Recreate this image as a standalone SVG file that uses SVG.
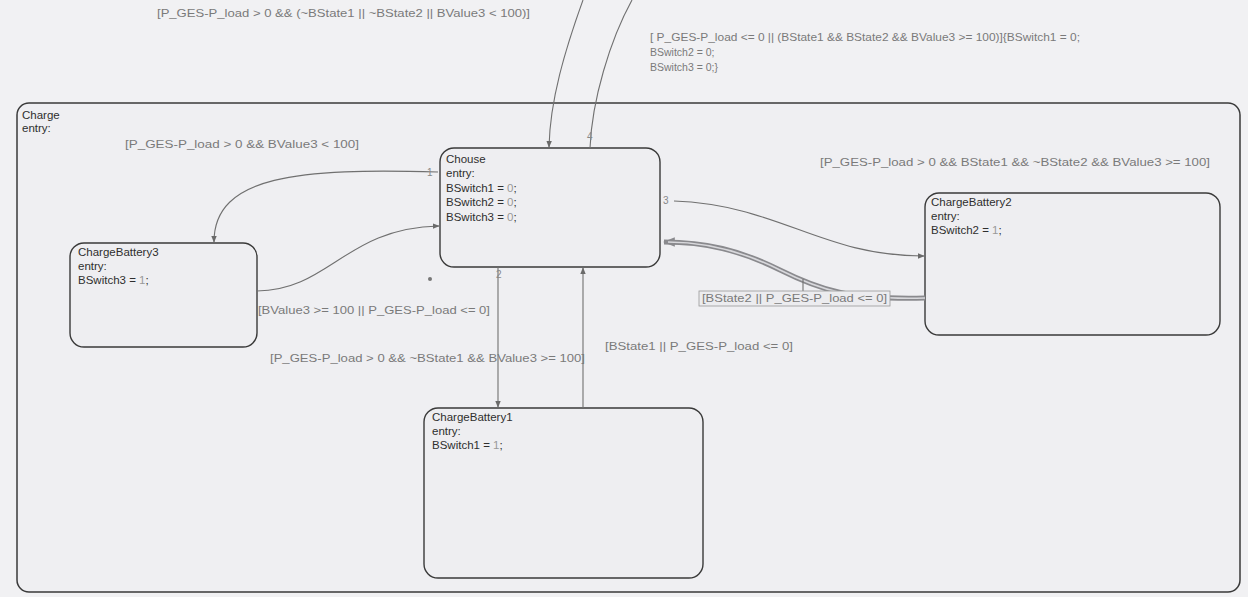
<svg xmlns="http://www.w3.org/2000/svg" width="1248" height="597" viewBox="0 0 1248 597">
<defs>
<style>
.bg{fill:#f1f1f3}
.state{fill:#eeeef1;stroke:#3a3a3a;stroke-width:1.4}
.outer{fill:#efeff2;stroke:#3a3a3a;stroke-width:1.5}
.nt{font-family:"Liberation Sans",Arial,sans-serif;font-size:11.5px;fill:#2e2e2e}
.lbl{font-family:"Liberation Sans",Arial,sans-serif;font-size:10.5px;fill:#7a7a7a}
.num{font-family:"Liberation Sans",Arial,sans-serif;font-size:10px;fill:#888}
.tr{fill:none;stroke:#707070;stroke-width:1.1}
.thick{fill:none;stroke:#8a8a8e;stroke-width:5}
.thickin{fill:none;stroke:#d8d8dc;stroke-width:1.6}
</style>
<marker id="arr" viewBox="0 0 10 10" refX="9" refY="5" markerWidth="7" markerHeight="7" orient="auto-start-reverse" markerUnits="userSpaceOnUse">
<path d="M0,1 L10,5 L0,9 Z" fill="#6a6a6a"/>
</marker>
<marker id="arrT" viewBox="0 0 10 10" refX="9" refY="5" markerWidth="12" markerHeight="12" orient="auto" markerUnits="userSpaceOnUse">
<path d="M0,1 L10,5 L0,9 Z" fill="#8a8a8e"/>
</marker>
</defs>
<rect class="bg" x="0" y="0" width="1248" height="597"/>

<g id="Charge">
<rect class="outer" x="17" y="103" width="1223" height="489" rx="12"/>
<text class="nt" x="22" y="119" font-size="10.5">Charge</text>
<text class="nt" x="22" y="132" font-size="10.5">entry:</text>
</g>

<g id="Chouse">
<rect class="state" x="440" y="148" width="220" height="119" rx="14"/>
<text class="nt" x="446" y="163">Chouse</text>
<text class="nt" x="446" y="177">entry:</text>
<text class="nt" x="446" y="192">BSwitch1 = <tspan fill="#999">0</tspan>;</text>
<text class="nt" x="446" y="206">BSwitch2 = <tspan fill="#999">0</tspan>;</text>
<text class="nt" x="446" y="221">BSwitch3 = <tspan fill="#999">0</tspan>;</text>
</g>

<g id="ChargeBattery3">
<rect class="state" x="70" y="243" width="187" height="104" rx="14"/>
<text class="nt" x="78" y="256">ChargeBattery3</text>
<text class="nt" x="78" y="270">entry:</text>
<text class="nt" x="78" y="284">BSwitch3 = <tspan fill="#999">1</tspan>;</text>
</g>

<g id="ChargeBattery2">
<rect class="state" x="925" y="193" width="295" height="142" rx="14"/>
<text class="nt" x="931" y="206">ChargeBattery2</text>
<text class="nt" x="931" y="220">entry:</text>
<text class="nt" x="931" y="234">BSwitch2 = <tspan fill="#999">1</tspan>;</text>
</g>

<g id="ChargeBattery1">
<rect class="state" x="424" y="408" width="279" height="170" rx="14"/>
<text class="nt" x="432" y="421">ChargeBattery1</text>
<text class="nt" x="432" y="435">entry:</text>
<text class="nt" x="432" y="449">BSwitch1 = <tspan fill="#999">1</tspan>;</text>
</g>

<g id="connectors">
<path class="tr" d="M583,0 C565,50 550,100 549,147" marker-end="url(#arr)"/>
<path class="tr" d="M590,148 C592,100 610,40 632,0"/>
<path class="tr" d="M438,172 C300,168 214,175 214,242" marker-end="url(#arr)"/>
<path class="tr" d="M257,291 C330,290 345,228 439,226" marker-end="url(#arr)"/>
<path class="tr" d="M674,201 C780,205 820,256 924,256" marker-end="url(#arr)"/>
<path class="thick" d="M925,298 C850,300 820,290 780,270 C740,250 705,242 664,242" marker-end="url(#arrT)"/>
<path class="thickin" d="M925,298 C850,300 820,290 780,270 C740,250 705,242 668,242"/>
<line class="tr" x1="803" y1="279" x2="803" y2="291"/>
<path class="tr" d="M498,267 L498,407" marker-end="url(#arr)"/>
<path class="tr" d="M583,408 L583,268" marker-end="url(#arr)"/>
<circle cx="430" cy="279" r="2" fill="#777"/>

<text class="lbl" x="157" y="17" textLength="373" lengthAdjust="spacingAndGlyphs">[P_GES-P_load &gt; 0 &amp;&amp; (~BState1 || ~BState2 || BValue3 &lt; 100)]</text>
<text class="lbl" x="650" y="41" textLength="430" lengthAdjust="spacingAndGlyphs">[ P_GES-P_load &lt;= 0 || (BState1 &amp;&amp; BState2 &amp;&amp; BValue3 &gt;= 100)]{BSwitch1 = 0;</text>
<text class="lbl" x="650" y="56">BSwitch2 = 0;</text>
<text class="lbl" x="650" y="71">BSwitch3 = 0;}</text>
<text class="lbl" x="125" y="148" textLength="234" lengthAdjust="spacingAndGlyphs">[P_GES-P_load &gt; 0 &amp;&amp; BValue3 &lt; 100]</text>
<text class="lbl" x="820" y="166" textLength="390" lengthAdjust="spacingAndGlyphs">[P_GES-P_load &gt; 0 &amp;&amp; BState1 &amp;&amp; ~BState2 &amp;&amp; BValue3 &gt;= 100]</text>
<text class="lbl" x="258" y="314" textLength="232" lengthAdjust="spacingAndGlyphs">[BValue3 &gt;= 100 || P_GES-P_load &lt;= 0]</text>
<text class="lbl" x="270" y="362" textLength="315" lengthAdjust="spacingAndGlyphs">[P_GES-P_load &gt; 0 &amp;&amp; ~BState1 &amp;&amp; BValue3 &gt;= 100]</text>
<text class="lbl" x="605" y="350" textLength="188" lengthAdjust="spacingAndGlyphs">[BState1 || P_GES-P_load &lt;= 0]</text>
<rect x="699" y="291" width="191" height="15" fill="#ececef" stroke="#9a9a9a" stroke-width="0.8"/>
<text class="lbl" x="702" y="302" textLength="185" lengthAdjust="spacingAndGlyphs">[BState2 || P_GES-P_load &lt;= 0]</text>
<text class="num" x="427" y="176">1</text>
<text class="num" x="496" y="278">2</text>
<text class="num" x="663" y="204">3</text>
<text class="num" x="587" y="140">4</text>
</g>
</svg>
